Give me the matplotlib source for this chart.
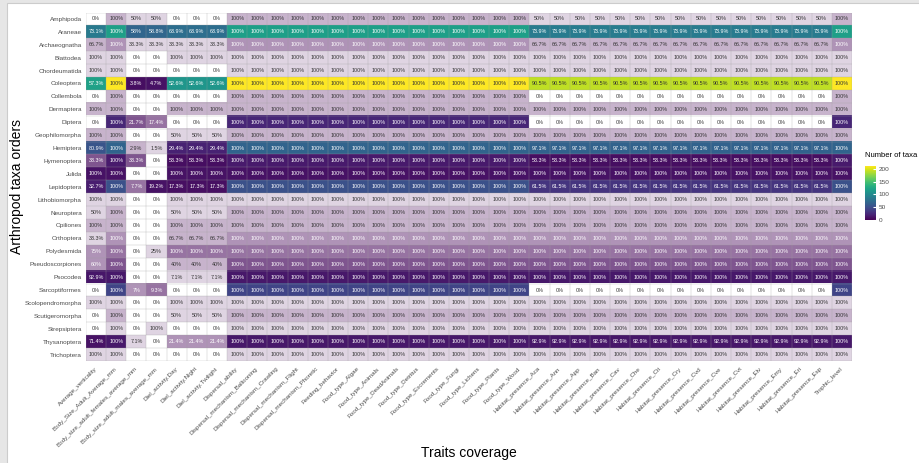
import numpy as np
import matplotlib.pyplot as plt
from matplotlib import colors
from matplotlib.cm import ScalarMappable
from matplotlib.patches import Rectangle

plt.rcParams['font.family'] = ['Liberation Sans', 'DejaVu Sans']

orders = ['Amphipoda', 'Araneae', 'Archaeognatha', 'Blattodea', 'Chordeumatida',
          'Coleoptera', 'Collembola', 'Dermaptera', 'Diptera', 'Geophilomorpha',
          'Hemiptera', 'Hymenoptera', 'Julida', 'Lepidoptera', 'Lithobiomorpha',
          'Neuroptera', 'Opiliones', 'Orthoptera', 'Polydesmida', 'Pseudoscorpiones',
          'Psocodea', 'Sarcoptiformes', 'Scolopendromorpha', 'Scutigeromorpha',
          'Strepsiptera', 'Thysanoptera', 'Trichoptera']

# trait columns, grouped in blocks that share one coverage value per order
traits_main = ['Average_verticality', 'Body_Size_Adult_Average_mm',
               'Body_size_adult_females_average_mm', 'Body_size_adult_males_average_mm',
               'Diel_activity.Day', 'Diel_activity.Night', 'Diel_activity.Twilight']
traits_disp_food = ['Dispersal_ability', 'Dispersal_mechanism_Ballooning',
                    'Dispersal_mechanism_Crawling', 'Dispersal_mechanism_Flight',
                    'Dispersal_mechanism_Phoretic', 'Feeding_behavior', 'Food_type_Algae',
                    'Food_type_Animals', 'Food_type_DeadAnimals', 'Food_type_Detritus',
                    'Food_type_Excrements', 'Food_type_Fungi', 'Food_type_Lichens',
                    'Food_type_Plants', 'Food_type_Wood']
traits_habitat = ['Habitat_presence_Aca', 'Habitat_presence_Ann', 'Habitat_presence_App',
                  'Habitat_presence_Ban', 'Habitat_presence_Cav', 'Habitat_presence_Che',
                  'Habitat_presence_Cit', 'Habitat_presence_Cry', 'Habitat_presence_Cvd',
                  'Habitat_presence_Cve', 'Habitat_presence_Cvt', 'Habitat_presence_Elv',
                  'Habitat_presence_Emy', 'Habitat_presence_Eri', 'Habitat_presence_Esp']
traits_trophic = ['Trophic_level']

# number of taxa per order
n_taxa = [2, 119, 3, 1, 1, 211, 2, 2, 23, 2, 68, 15, 10, 52, 1,
          2, 2, 3, 4, 5, 14, 43, 1, 2, 1, 14, 1]

# coverage (%) of the first seven traits
cov_main = [
    [0, 100, 50, 50, 0, 0, 0],
    [73.1, 100, 58, 58.8, 63.9, 63.9, 63.9],
    [66.7, 100, 33.3, 33.3, 33.3, 33.3, 33.3],
    [100, 100, 0, 0, 100, 100, 100],
    [100, 100, 0, 0, 0, 0, 0],
    [57.3, 100, 3.8, 4.7, 52.6, 52.6, 52.6],
    [0, 100, 0, 0, 0, 0, 0],
    [100, 100, 0, 0, 100, 100, 100],
    [0, 100, 21.7, 17.4, 0, 0, 0],
    [100, 100, 0, 0, 50, 50, 50],
    [80.9, 100, 2.9, 1.5, 29.4, 29.4, 29.4],
    [33.3, 100, 33.3, 0, 53.3, 53.3, 53.3],
    [100, 100, 0, 0, 100, 100, 100],
    [32.7, 100, 7.7, 19.2, 17.3, 17.3, 17.3],
    [100, 100, 0, 0, 100, 100, 100],
    [50, 100, 0, 0, 50, 50, 50],
    [100, 100, 0, 0, 100, 100, 100],
    [33.3, 100, 0, 0, 66.7, 66.7, 66.7],
    [75, 100, 0, 25, 100, 100, 100],
    [60, 100, 0, 0, 40, 40, 40],
    [92.9, 100, 0, 0, 7.1, 7.1, 7.1],
    [0, 100, 7, 9.3, 0, 0, 0],
    [100, 100, 0, 0, 100, 100, 100],
    [0, 100, 0, 0, 50, 50, 50],
    [0, 100, 0, 100, 0, 0, 0],
    [71.4, 100, 7.1, 0, 21.4, 21.4, 21.4],
    [100, 100, 0, 0, 0, 0, 0],
]
cov_disp_food = [100] * 27
cov_habitat = [50, 73.9, 66.7, 100, 100, 90.5, 0, 100, 0, 100, 97.1, 53.3, 100, 61.5, 100,
               100, 100, 100, 100, 100, 100, 0, 100, 100, 100, 92.9, 100]
cov_trophic = [100] * 27

traits = traits_main + traits_disp_food + traits_habitat + traits_trophic
cov = np.array([list(cov_main[i])
                + [cov_disp_food[i]] * len(traits_disp_food)
                + [cov_habitat[i]] * len(traits_habitat)
                + [cov_trophic[i]] for i in range(len(orders))], dtype=float)
counts = np.round(cov / 100 * np.array(n_taxa)[:, None])

# fill: viridis by number of taxa, faded out for cells with only a few taxa
cmap = plt.get_cmap('viridis')
norm = colors.Normalize(0, max(n_taxa))
alpha = np.where(counts > 0, np.clip(0.04 + 0.13 * counts, 0, 1), 0)
rgb = cmap(norm(counts))[..., :3]
img = alpha[..., None] * rgb + (1 - alpha[..., None])

fig = plt.figure(figsize=(9.2, 4.63), dpi=100)
fig.patch.set_facecolor('#e6e6e6')
fig.add_artist(Rectangle((7.5 / 920, -0.01), 1.0, 1 - 3 / 463 + 0.01,
                         transform=fig.transFigure, facecolor='white',
                         edgecolor='#cccccc', lw=0.8, zorder=-1))

ax = fig.add_axes([86 / 920, 1 - 361 / 463, 766 / 920, 348.5 / 463])
ax.imshow(img, aspect='auto', interpolation='nearest')

nr, nc = cov.shape
ax.set_xticks(np.arange(-0.5, nc), minor=True)
ax.set_yticks(np.arange(-0.5, nr), minor=True)
ax.grid(which='minor', color='#a0a0a0', lw=0.35, alpha=0.6)
ax.tick_params(which='both', length=0)
for s in ax.spines.values():
    s.set_visible(False)

for i in range(nr):
    for j in range(nc):
        v = cov[i, j]
        light = counts[i, j] >= 3 and norm(counts[i, j]) < 0.58
        ax.text(j, i, f'{v:g}%', ha='center', va='center', fontsize=3.9,
                color='white' if light else '#333333')

ax.set_yticks(range(nr))
ax.set_yticklabels(orders, fontsize=4.6, color='#4d4d4d')
ax.set_xticks(range(nc))
ax.set_xticklabels(traits, fontsize=4.5, color='#4d4d4d', rotation=45,
                   ha='right', va='center', rotation_mode='anchor')
ax.tick_params(axis='x', pad=5)
ax.tick_params(axis='y', pad=3)

fig.text(469 / 920, 1 - 453 / 463, 'Traits coverage', fontsize=10,
         ha='center', va='center')
fig.text(17 / 920, 1 - 187 / 463, 'Arthropod taxa orders', fontsize=10,
         ha='center', va='center', rotation=90)

# colour bar for the number of taxa
cax = fig.add_axes([865 / 920, 1 - 220 / 463, 11 / 920, 54 / 463])
sm = ScalarMappable(norm=norm, cmap=cmap)
cb = fig.colorbar(sm, cax=cax, ticks=[0, 50, 100, 150, 200])
cb.outline.set_visible(False)
cax.tick_params(labelsize=4.6, labelcolor='#4d4d4d', length=2, color='white',
                direction='in', pad=2)
fig.text(865 / 920, 1 - 155 / 463, 'Number of taxa', fontsize=5.5,
         ha='left', va='center')

fig.savefig('out.png', dpi=100, facecolor=fig.get_facecolor())
